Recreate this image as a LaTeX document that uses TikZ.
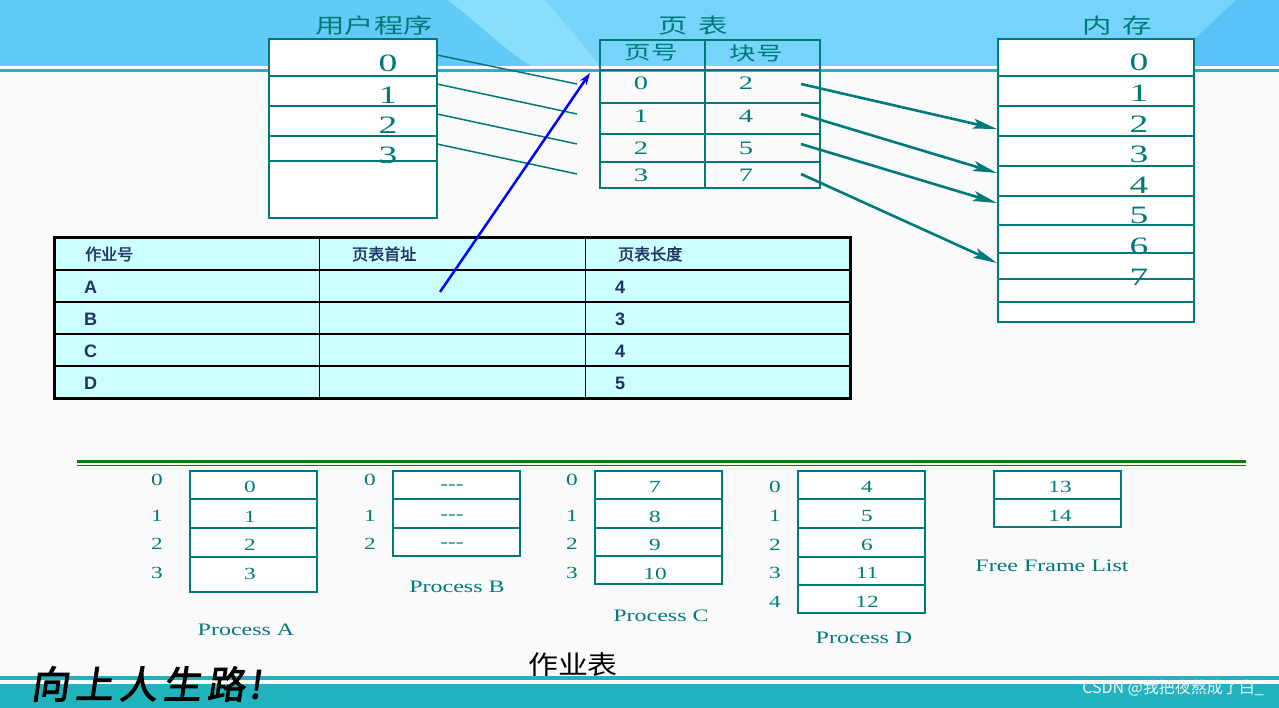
\documentclass[tikz,border=0pt]{standalone}
\usepackage{fontspec}
\usetikzlibrary{arrows.meta}
\setsansfont{Liberation Sans}
\newfontfamily\cjk{Noto Sans CJK SC}
\newfontfamily\cjkw[FakeStretch=1.4]{Noto Sans CJK SC}
\newfontfamily\cjkm[FakeStretch=1.15]{Noto Sans CJK SC}
\newfontfamily\cjkb[FakeBold=2]{Noto Sans CJK SC}
\newfontfamily\brush[FakeBold=2.5,FakeSlant=0.15]{Noto Sans CJK SC}
\newfontfamily\digw[FakeStretch=1.5]{Liberation Serif}
\newfontfamily\serw[FakeStretch=1.37]{Liberation Serif}
\definecolor{tealc}{RGB}{0,122,120}
\definecolor{bandc}{RGB}{98,202,247}
\definecolor{bandl}{RGB}{118,212,250}
\definecolor{bandll}{RGB}{138,224,252}
\definecolor{bandr}{RGB}{88,194,246}
\definecolor{tealband}{RGB}{34,180,190}
\definecolor{bodybg}{RGB}{250,250,250}
\definecolor{jobfill}{RGB}{204,255,255}
\definecolor{navy}{RGB}{31,52,96}
\definecolor{greenl}{RGB}{0,128,0}
\begin{document}
\begin{tikzpicture}[x=1pt,y=-1pt,
  box/.style={draw=tealc,line width=2pt,fill=white},
  ptbox/.style={draw=tealc,line width=1.5pt},
  ttl/.style={text=tealc,font=\cjkw\fontsize{21}{21}\selectfont,inner sep=0},
  topdig/.style={text=tealc,font=\digw\fontsize{25}{25}\selectfont,inner sep=0},
  ptdig/.style={text=tealc,font=\digw\fontsize{19}{19}\selectfont,inner sep=0},
  bdig/.style={text=tealc,font=\serw\fontsize{17}{17}\selectfont,inner sep=0},
  plabel/.style={text=tealc,font=\serw\fontsize{17.5}{17.5}\selectfont,inner sep=0},
  jobcjk/.style={text=navy,font=\cjkb\fontsize{16}{16}\selectfont,inner sep=0,anchor=west},
  joblat/.style={text=navy,font=\sffamily\bfseries\fontsize{18}{18}\selectfont,inner sep=0,anchor=west},
  thinlink/.style={draw=tealc,line width=1.5pt},
  maplink/.style={draw=tealc,line width=2.6pt,-{Stealth[length=24pt,width=10pt,inset=5pt]}},
  ptrlink/.style={draw=blue,line width=2.5pt,-{Stealth[length=12pt,width=8pt]}}
]
\useasboundingbox (0,0) rectangle (1279,708);
% ---------- background ----------
\fill[bodybg] (0,0) rectangle (1279,708);
\fill[bandc] (0,0) rectangle (1279,67);
\fill[bandl] (448,0) .. controls (480,25) and (505,50) .. (533,67) -- (1279,67) -- (1279,0) -- cycle;
\fill[bandll] (448,0) .. controls (480,25) and (505,50) .. (533,67) -- (600,67) .. controls (580,40) and (560,18) .. (545,0) -- cycle;
\fill[bandr] (1236,0) -- (1279,0) -- (1279,67) -- (1165,67) -- cycle;
\fill[white] (0,66.5) rectangle (1279,69);
\fill[tealband] (0,69) rectangle (1279,72.5);
\fill[tealband] (0,676) rectangle (1279,679.5);
\fill[white] (0,679.5) rectangle (1279,684);
\fill[tealband] (0,684) rectangle (1279,708);

% ---------- user program ----------
\node[ttl] (tuser) at (374,26) {用户程序};
\draw[box] (269,39) rectangle (437,218);
\foreach \yy in {76,106,136,161} \draw[tealc,line width=2pt] (269,\yy) -- (437,\yy);
\node[topdig] (u0) at (388,63) {0};
\node[topdig] (u1) at (388,95) {1};
\node[topdig] (u2) at (388,125) {2};
\node[topdig] (u3) at (388,155) {3};

% ---------- page table ----------
\node[ttl] (tpt) at (693,26) {页\hspace{10pt}表};
\draw[ptbox] (600,40) rectangle (820,188);
\draw[ptbox] (705,40) -- (705,188);
\foreach \yy in {70,103,134,162} \draw[ptbox] (600,\yy) -- (820,\yy);
\node[ttl,font=\cjkw\fontsize{19}{19}\selectfont] (hpg) at (651,53) {页号};
\node[ttl,font=\cjkw\fontsize{19}{19}\selectfont] (hblk) at (756,53) {块号};
\node[ptdig] (p0) at (641,83) {0};
\node[ptdig] (p1) at (641,116) {1};
\node[ptdig] (p2) at (641,148) {2};
\node[ptdig] (p3) at (641,175) {3};
\node[ptdig] (b0) at (746,83) {2};
\node[ptdig] (b1) at (746,116) {4};
\node[ptdig] (b2) at (746,148) {5};
\node[ptdig] (b3) at (746,175) {7};

% ---------- memory ----------
\node[ttl] (tmem) at (1117,26) {内\hspace{10pt}存};
\draw[box,line width=2.4pt] (998,39) rectangle (1194,322);
\foreach \yy in {76,106,136,166,196,225,253,279,302} \draw[tealc,line width=2.4pt] (998,\yy) -- (1194,\yy);
\foreach \d/\yy in {0/62,1/93,2/124,3/154,4/185,5/215,6/246,7/277}
  \node[topdig] (m\d) at (1139,\yy) {\d};

% ---------- links ----------
\coordinate (us0) at (437,55);  \coordinate (pe0) at (577,84);
\coordinate (us1) at (437,84);  \coordinate (pe1) at (577,114);
\coordinate (us2) at (437,114); \coordinate (pe2) at (577,144);
\coordinate (us3) at (437,144); \coordinate (pe3) at (577,174);
\draw[thinlink] (us0) -- (pe0);
\draw[thinlink] (us1) -- (pe1);
\draw[thinlink] (us2) -- (pe2);
\draw[thinlink] (us3) -- (pe3);

\coordinate (bs0) at (801,84);  \coordinate (me0) at (997,129);
\coordinate (bs1) at (801,114); \coordinate (me1) at (997,173);
\coordinate (bs2) at (801,144); \coordinate (me2) at (997,203);
\coordinate (bs3) at (801,174); \coordinate (me3) at (997,263);
\draw[maplink] (bs0) -- (me0);
\draw[maplink] (bs1) -- (me1);
\draw[maplink] (bs2) -- (me2);
\draw[maplink] (bs3) -- (me3);

% ---------- job table ----------
\fill[jobfill] (54,238) rectangle (850,398);
\foreach \yy in {270,302,334,366} \draw[black,line width=1.4pt] (54,\yy) -- (850,\yy);
\draw[black,line width=1.4pt] (319.5,238) -- (319.5,398);
\draw[black,line width=1pt] (585,238) -- (585,398);
\draw[black,line width=3pt] (54,238) rectangle (850,398);
\node[jobcjk] (h1) at (85,254) {作业号};
\node[jobcjk] (h2) at (352,254) {页表首址};
\node[jobcjk] (h3) at (618,254) {页表长度};
\node[joblat] (jA) at (84,287) {A};
\node[joblat] (jB) at (84,319) {B};
\node[joblat] (jC) at (84,351) {C};
\node[joblat] (jD) at (84,383) {D};
\node[joblat] (lA) at (615,287) {4};
\node[joblat] (lB) at (615,319) {3};
\node[joblat] (lC) at (615,351) {4};
\node[joblat] (lD) at (615,383) {5};

\coordinate (ptrs) at (440,292);
\coordinate (ptre) at (590,73);
\draw[ptrlink] (ptrs) -- (ptre);

% ---------- separator ----------
\draw[greenl,line width=3pt] (77,461.5) -- (1246,461.5);
\draw[greenl,line width=1pt] (77,465.5) -- (1246,465.5);

% ---------- Process A ----------
\draw[box] (190,471) rectangle (317,592);
\foreach \yy in {499,528,557} \draw[tealc,line width=2pt] (190,\yy) -- (317,\yy);
\foreach \d/\yi/\yv in {0/480/487,1/516/517,2/544/545,3/573/574}{
  \node[bdig] (ai\d) at (157,\yi) {\d};
  \node[bdig] (av\d) at (250,\yv) {\d};}
\node[plabel] (lblA) at (246,630) {Process A};

% ---------- Process B ----------
\draw[box] (393,471) rectangle (520,556);
\foreach \yy in {499,528} \draw[tealc,line width=2pt] (393,\yy) -- (520,\yy);
\foreach \d/\yi/\yv in {0/480/487,1/516/517,2/544/545}{
  \node[bdig] (bi\d) at (370,\yi) {\d};
  \node[bdig] (bv\d) at (452,\yv) {-{}-{}-};}
\node[plabel] (lblB) at (457,587) {Process B};

% ---------- Process C ----------
\draw[box] (595,471) rectangle (722,584);
\foreach \yy in {499,528,556} \draw[tealc,line width=2pt] (595,\yy) -- (722,\yy);
\foreach \d/\v/\yi/\yv in {0/7/480/487,1/8/516/517,2/9/544/545,3/10/573/574}{
  \node[bdig] (ci\d) at (572,\yi) {\d};
  \node[bdig] (cv\d) at (655,\yv) {\v};}
\node[plabel] (lblC) at (661,616) {Process C};

% ---------- Process D ----------
\draw[box] (798,471) rectangle (925,613);
\foreach \yy in {499,528,557,585} \draw[tealc,line width=2pt] (798,\yy) -- (925,\yy);
\foreach \d/\v/\yy in {0/4/487,1/5/516,2/6/545,3/11/573,4/12/602}{
  \node[bdig] (di\d) at (775,\yy) {\d};
  \node[bdig] (dv\d) at (867,\yy) {\v};}
\node[plabel] (lblD) at (864,638) {Process D};

% ---------- Free frame list ----------
\draw[box] (994,471) rectangle (1121,527);
\draw[tealc,line width=2pt] (994,499) -- (1121,499);
\node[bdig] (f0) at (1060,487) {13};
\node[bdig] (f1) at (1060,516) {14};
\node[plabel] (lblF) at (1052,566) {Free Frame List};

% ---------- bottom texts ----------
\node[inner sep=0,font=\cjkm\fontsize{26}{26}\selectfont] (jobt) at (573,665) {作业表};
\node[inner sep=0,font=\brush\fontsize{38}{38}\selectfont] (motto) at (146,684) {向\hspace{6pt}上\hspace{6pt}人\hspace{6pt}生\hspace{6pt}路\hspace{4pt}!};
\node[inner sep=0,anchor=east,text=white!90!gray,font=\cjk\fontsize{16}{16}\selectfont] (wm) at (1264,688) {CSDN @我把夜熬成了白\_};
\end{tikzpicture}
\end{document}
